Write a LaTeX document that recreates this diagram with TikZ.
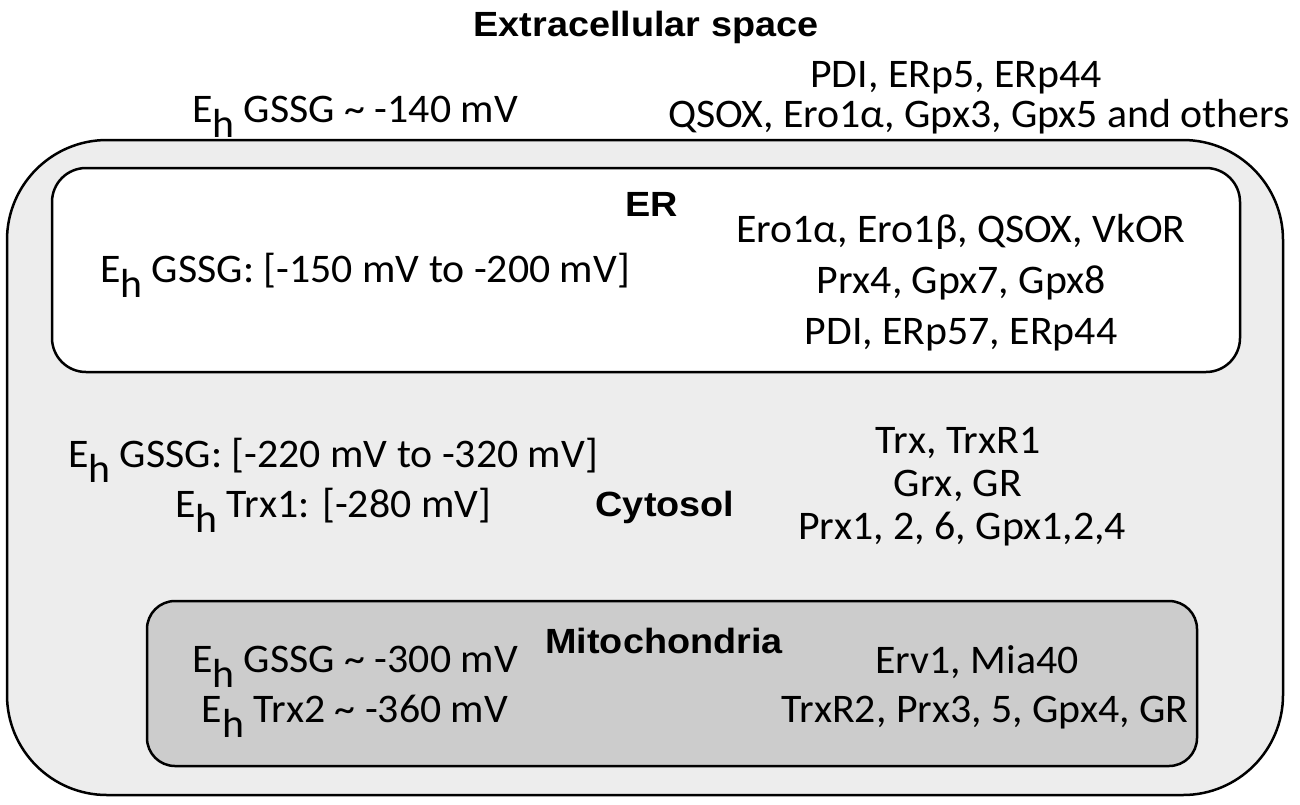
\documentclass[tikz,border=0pt]{standalone}
\usepackage{fontspec}
\setmainfont{Carlito}[FakeStretch=1.03]
\newfontfamily\headfont{Liberation Sans}[FakeStretch=1.08]
\usetikzlibrary{positioning}

\newcommand{\Eh}{E\raisebox{-.38em}{h}}

\begin{document}
\begin{tikzpicture}[
	x=0.5pt, y=-0.5pt,
	every node/.style={inner sep=0pt},
	txt/.style = {font=\fontsize{20.3}{24}\selectfont, anchor=base},
	head/.style = {font=\headfont\bfseries\fontsize{17.5}{21}\selectfont, anchor=base},
	box/.style = {draw, line width=1.25pt}
	]
	\useasboundingbox (0,0) rectangle (1300,804);

	% compartments
	\draw[box, fill=black!7, rounded corners=50pt] (7,140) rectangle (1283,795);
	\draw[box, fill=white, rounded corners=17pt] (52,168) rectangle (1240,372);
	\draw[box, fill=black!20, rounded corners=14pt] (147,601) rectangle (1197,766);

	% extracellular space
	\node[head] (extra) at (646,36) {Extracellular space};
	\node[txt] (extra1) at (956,87) {PDI, ERp5, ERp44};
	\node[txt] (extra2) at (979,127) {QSOX, Ero1α, Gpx3, Gpx5 and others};
	\node[txt] (extraE) at (355,122) {\Eh{} GSSG \textasciitilde{} -140 mV};

	% ER
	\node[head] (er) at (652,216) {ER};
	\node[txt] (er1) at (961,242) {Ero1α, Ero1β, QSOX, VkOR};
	\node[txt] (er2) at (961,293) {Prx4, Gpx7, Gpx8};
	\node[txt] (er3) at (961,344) {PDI, ERp57, ERp44};
	\node[txt] (erE) at (365,282) {\Eh{} GSSG: [-150 mV to -200 mV]};

	% cytosol
	\node[head] (cyto) at (665,516) {Cytosol};
	\node[txt] (cyto1) at (958,453) {Trx, TrxR1};
	\node[txt] (cyto2) at (958,496) {Grx, GR};
	\node[txt] (cyto3) at (962,539) {Prx1, 2, 6, Gpx1,2,4};
	\node[txt] (cytoE1) at (333,467) {\Eh{} GSSG: [-220 mV to -320 mV]};
	\node[txt] (cytoE2) at (333,517) {\Eh{} Trx1: [-280 mV]};

	% mitochondria
	\node[head] (mito) at (664,653) {Mitochondria};
	\node[txt] (mito1) at (977,673) {Erv1, Mia40};
	\node[txt] (mito2) at (985,722) {TrxR2, Prx3, 5, Gpx4, GR};
	\node[txt] (mitoE1) at (355,672) {\Eh{} GSSG \textasciitilde{} -300 mV};
	\node[txt] (mitoE2) at (355,722) {\Eh{} Trx2 \textasciitilde{} -360 mV};

\end{tikzpicture}
\end{document}
